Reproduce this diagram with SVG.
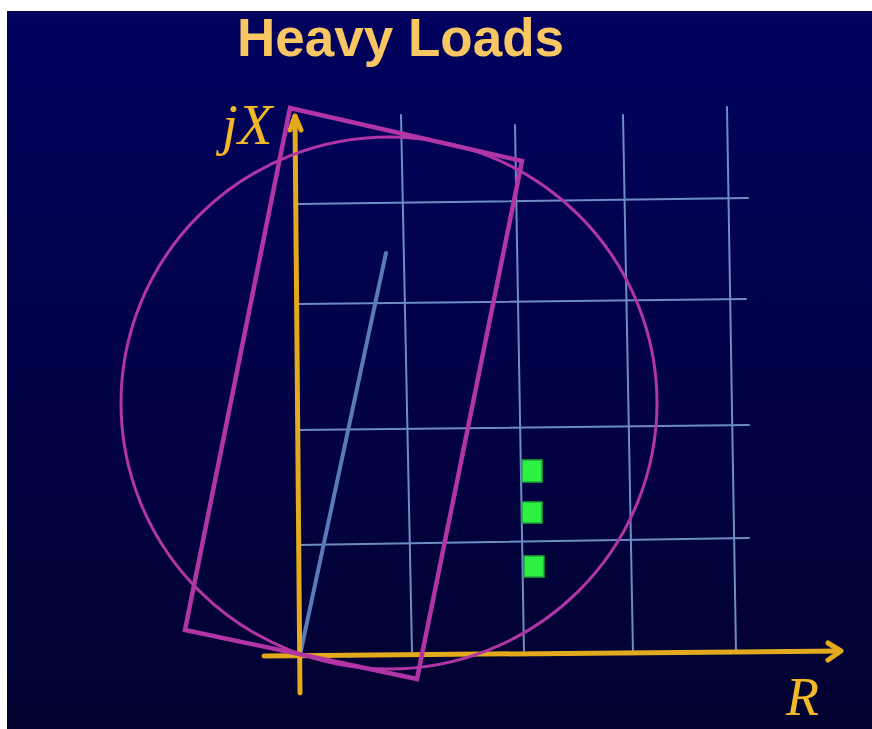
<svg xmlns="http://www.w3.org/2000/svg" width="872" height="729" viewBox="0 0 872 729">
<defs>
<linearGradient id="bg" x1="0" y1="0" x2="0" y2="1">
<stop offset="0" stop-color="#02025f"/>
<stop offset="1" stop-color="#020230"/>
</linearGradient>
<style>
.grid{stroke:#6d8cc4;stroke-width:2;fill:none;stroke-linecap:round}
.axis{stroke:#e2aa1c;stroke-width:5;fill:none;stroke-linecap:round;stroke-linejoin:round}
.mag{stroke:#b235a6;fill:none;stroke-linejoin:miter}
.pt{fill:#2fef45;stroke:#1fa83a;stroke-width:1.5}
.lbl{font-family:"Liberation Serif",serif;font-style:italic;fill:#f2b82a}
</style>
</defs>
<rect x="0" y="0" width="872" height="729" fill="#ffffff"/>
<rect x="7" y="11" width="865" height="718" fill="url(#bg)"/>
<text x="237" y="56" font-family="Liberation Sans,Arial,sans-serif" font-weight="bold" font-size="53" fill="#f8c763">Heavy Loads</text>
<g id="grid">
<line class="grid" x1="401" y1="115" x2="412" y2="652"/>
<line class="grid" x1="515" y1="125" x2="524" y2="653"/>
<line class="grid" x1="623" y1="115" x2="633" y2="653"/>
<line class="grid" x1="727" y1="107" x2="736" y2="652"/>
<line class="grid" x1="298" y1="204" x2="748" y2="198"/>
<line class="grid" x1="298" y1="304" x2="746" y2="299"/>
<line class="grid" x1="298" y1="430" x2="749" y2="425"/>
<line class="grid" x1="298" y1="545" x2="749" y2="538"/>
</g>
<g id="impedance-line">
<line x1="386" y1="253" x2="300" y2="655" stroke="#5a7cb6" stroke-width="4" stroke-linecap="round"/>
</g>
<g id="axes">
<line class="axis" x1="295" y1="116" x2="300" y2="693"/>
<polyline class="axis" points="290,130 295,116 301,130" stroke-width="3"/>
<line class="axis" x1="264" y1="656" x2="840" y2="651"/>
<polyline class="axis" points="828,643 841,651 828,660" stroke-width="4"/>
</g>
<g id="mho-circle">
<ellipse class="mag" cx="389" cy="403" rx="268" ry="266" stroke-width="3"/>
</g>
<g id="quad-zone">
<polygon class="mag" points="290,108 522,161 417,679 185,630" stroke-width="4.5"/>
</g>
<g id="load-points">
<rect class="pt" x="522" y="460" width="20" height="22"/>
<rect class="pt" x="522" y="502" width="20" height="21"/>
<rect class="pt" x="524" y="556" width="20" height="21"/>
</g>
<g id="labels">
<text class="lbl" x="222" y="144" font-size="57">jX</text>
<text class="lbl" x="786" y="715" font-size="54">R</text>
</g>
</svg>
